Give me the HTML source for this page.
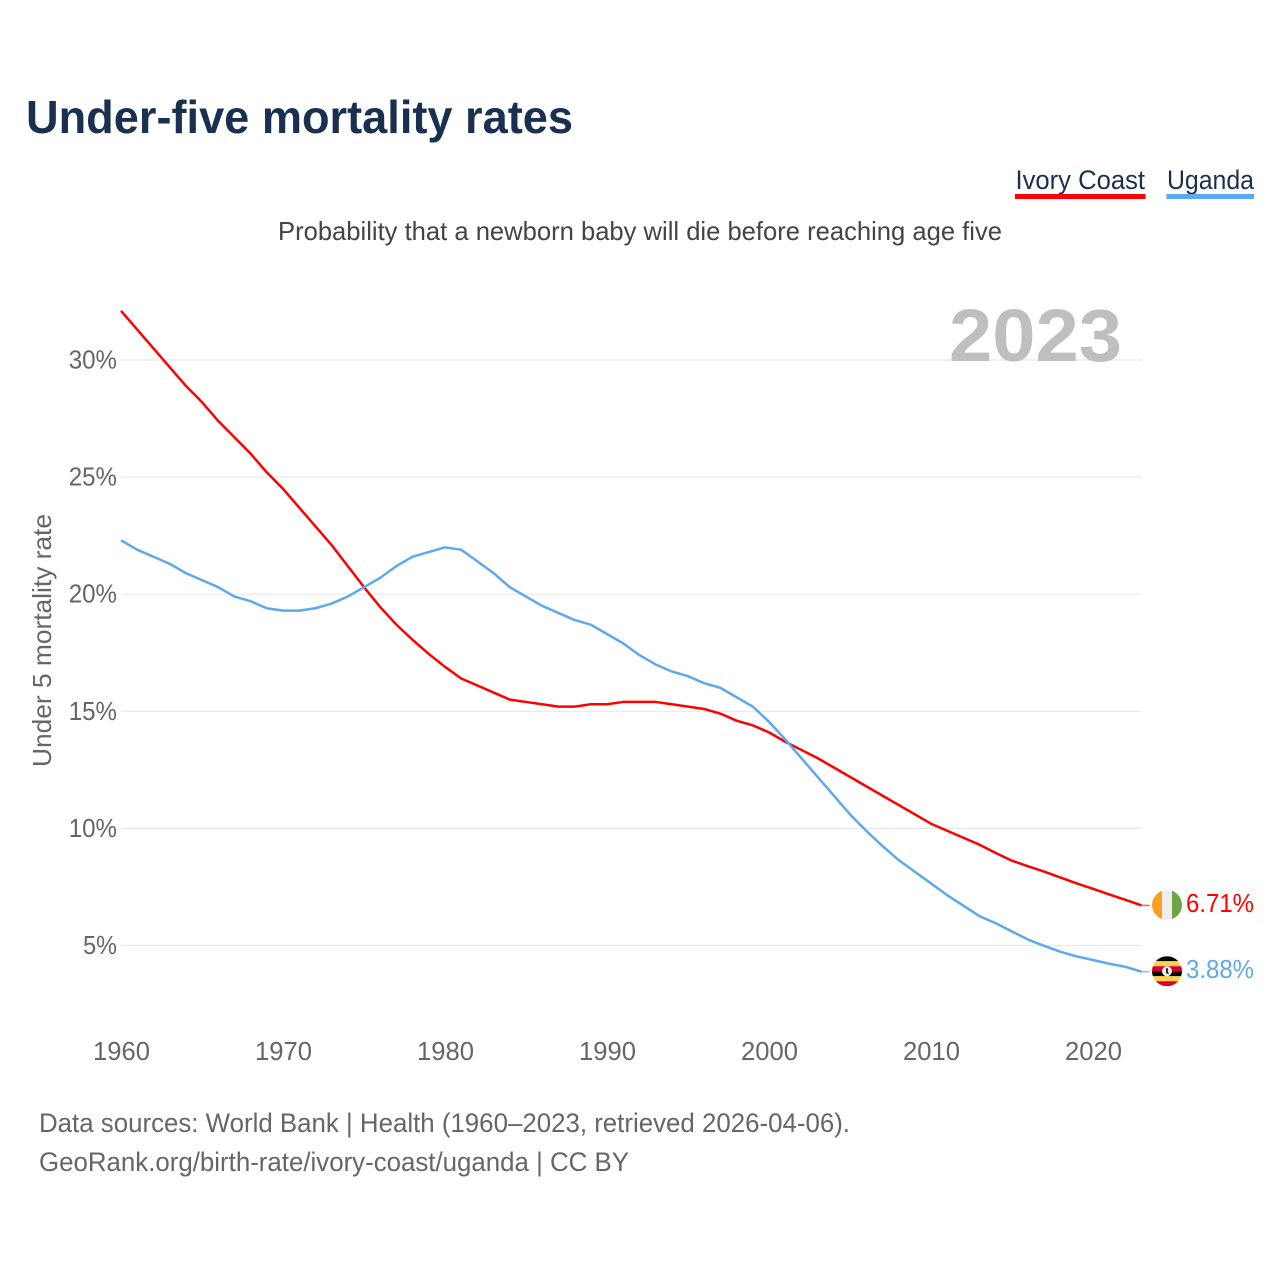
<!DOCTYPE html>
<html lang="en">
<head>
<meta charset="utf-8">
<title>Under-five mortality rates</title>
<style>
html,body{margin:0;padding:0;background:#fff;}
svg{display:block;font-family:"Liberation Sans",sans-serif;}
</style>
</head>
<body>
<svg id="chart" xmlns="http://www.w3.org/2000/svg" width="1280" height="1280" viewBox="0 0 1280 1280">
  <rect width="1280" height="1280" fill="#fff"/>
  <text x="26" y="133" font-size="46" font-weight="700" fill="#1a3050" textLength="547" lengthAdjust="spacingAndGlyphs">Under-five mortality rates</text>
  <g>
    <text x="1015.500" y="189" font-size="27" fill="#1a3050" textLength="129.500" lengthAdjust="spacingAndGlyphs">Ivory Coast</text>
    <rect x="1015" y="194" width="130.500" height="5" fill="#ff0000"/>
  </g>
  <g>
    <text x="1167" y="189" font-size="27" fill="#1a3050" textLength="87" lengthAdjust="spacingAndGlyphs">Uganda</text>
    <rect x="1166.500" y="194" width="87.500" height="5" fill="#5fa8ee"/>
  </g>
  <text x="278" y="240" font-size="26" fill="#444" textLength="724" lengthAdjust="spacingAndGlyphs">Probability that a newborn baby will die before reaching age five</text>
  <g id="grid"></g>
  <text id="year-mark" x="949" y="361" font-size="74" font-weight="700" fill="#bfbfbf" textLength="173" lengthAdjust="spacingAndGlyphs"></text>
  <g id="yticks"></g>
  <g id="xticks"></g>
  <text transform="translate(51,767) rotate(-90)" font-size="26" fill="#666" textLength="253" lengthAdjust="spacingAndGlyphs">Under 5 mortality rate</text>
  <g id="series"></g>

  <defs>
    <clipPath id="flag-clip"><circle cx="0" cy="0" r="15"/></clipPath>
  </defs>
  <g id="flag-ivory">
    <g clip-path="url(#flag-clip)">
      <rect x="-15" y="-15" width="10" height="30" fill="#f9a01f"/>
      <rect x="-5" y="-15" width="10" height="30" fill="#eeeeee"/>
      <rect x="5" y="-15" width="10" height="30" fill="#6da544"/>
    </g>
  </g>
  <g id="flag-uganda">
    <g clip-path="url(#flag-clip)">
      <rect x="-15" y="-15" width="30" height="5" fill="#000"/>
      <rect x="-15" y="-10" width="30" height="5" fill="#ffd24d"/>
      <rect x="-15" y="-5" width="30" height="5" fill="#d80027"/>
      <rect x="-15" y="0" width="30" height="5" fill="#000"/>
      <rect x="-15" y="5" width="30" height="5" fill="#ffd24d"/>
      <rect x="-15" y="10" width="30" height="5" fill="#d80027"/>
      <circle cx="0" cy="0" r="5" fill="#f0f0f0"/>
      <path d="M-1 -3 L1 -3 L0.800 0 L2 3 L-1 2 Z" fill="#222"/>
    </g>
  </g>
  <text id="label-ivory" x="1186" font-size="26" fill="#ff0000" textLength="68" lengthAdjust="spacingAndGlyphs"></text>
  <text id="label-uganda" x="1186" font-size="26" fill="#5fa8ee" textLength="68" lengthAdjust="spacingAndGlyphs"></text>

  <text x="39" y="1132" font-size="27" fill="#666" textLength="811" lengthAdjust="spacingAndGlyphs">Data sources: World Bank | Health (1960–2023, retrieved 2026-04-06).</text>
  <text x="39" y="1171" font-size="27" fill="#666" textLength="590" lengthAdjust="spacingAndGlyphs">GeoRank.org/birth-rate/ivory-coast/uganda | CC BY</text>
</svg>
<script>
const firstYear = 1960;
const xTickLabels = [1960, 1970, 1980, 1990, 2000, 2010, 2020];
const yTickLabels = [5, 10, 15, 20, 25, 30];
const ivoryCoast = [32.1,31.3,30.5,29.7,28.9,28.2,27.4,26.7,26.0,25.2,24.5,23.7,22.9,22.1,21.2,20.3,19.45,18.7,18.05,17.45,16.9,16.4,16.1,15.8,15.5,15.4,15.3,15.2,15.2,15.3,15.3,15.4,15.4,15.4,15.3,15.2,15.1,14.9,14.6,14.4,14.1,13.7,13.35,13.0,12.6,12.2,11.8,11.4,11.0,10.6,10.2,9.9,9.6,9.3,8.95,8.62,8.38,8.15,7.9,7.65,7.42,7.18,6.95,6.71];
const uganda = [22.3,21.9,21.6,21.3,20.9,20.6,20.3,19.9,19.7,19.4,19.3,19.3,19.4,19.6,19.9,20.3,20.7,21.2,21.6,21.8,22.0,21.9,21.4,20.9,20.3,19.9,19.5,19.2,18.9,18.7,18.3,17.9,17.4,17.0,16.7,16.5,16.2,16.0,15.6,15.2,14.55,13.8,13.0,12.2,11.4,10.6,9.9,9.25,8.65,8.15,7.65,7.15,6.7,6.25,5.95,5.6,5.25,4.98,4.73,4.53,4.38,4.22,4.09,3.88];

const NS = 'http://www.w3.org/2000/svg';
function xScale(year) { return 121 + (year - 1960) * 16.2; }
function yScale(value) { return 360 + (30 - value) * 23.42; }
function make(tag, attrs, text) {
  const el = document.createElementNS(NS, tag);
  for (const k in attrs) el.setAttribute(k, attrs[k]);
  if (text !== undefined) el.textContent = text;
  return el;
}
const lastYear = firstYear + ivoryCoast.length - 1;
const plotRight = xScale(lastYear);

const grid = document.getElementById('grid');
const yticks = document.getElementById('yticks');
yTickLabels.forEach(function (v) {
  const line = make('line', {x1: 121, x2: plotRight, y1: yScale(v), y2: yScale(v), stroke: '#e8e8e8', 'stroke-width': 1.2});
  
  
  grid.appendChild(line);
  const str = v + '%';
  const width = (str.length - 1) * 14.4 + 19.5;
  const label = make('text', {x: 117 - width, y: yScale(v) + 8.5, 'font-size': 25.6, fill: '#666', textLength: width, lengthAdjust: 'spacingAndGlyphs'}, str);
  
  
  yticks.appendChild(label);
});

const xticks = document.getElementById('xticks');
xTickLabels.forEach(function (yr) {
  const label = make('text', {x: xScale(yr) + 0.5, y: 1060, 'font-size': 25.6, fill: '#666', 'text-anchor': 'middle'}, String(yr));
  
  
  xticks.appendChild(label);
});

function linePath(values) {
  return values.map(function (v, i) {
    return (i ? 'L' : 'M') + xScale(firstYear + i).toFixed(2) + ' ' + yScale(v).toFixed(2);
  }).join(' ');
}
const series = document.getElementById('series');

const ivoryLine = make('path', {d: linePath(ivoryCoast), fill: 'none', stroke: '#ff0000', 'stroke-width': 2.5, 'stroke-linejoin': 'round'});


series.appendChild(ivoryLine);

const ugandaLine = make('path', {d: linePath(uganda), fill: 'none', stroke: '#5fa8ee', 'stroke-width': 2.5, 'stroke-linejoin': 'round'});


series.appendChild(ugandaLine);

const ivoryEnd = ivoryCoast[ivoryCoast.length - 1];
const ugandaEnd = uganda[uganda.length - 1];

const ivoryConn = make('line', {x1: plotRight, x2: plotRight + 8, y1: yScale(ivoryEnd), y2: yScale(ivoryEnd), stroke: '#ff5a5a', 'stroke-width': 1.5});


series.appendChild(ivoryConn);

const ugandaConn = make('line', {x1: plotRight, x2: plotRight + 8, y1: yScale(ugandaEnd), y2: yScale(ugandaEnd), stroke: '#8fc0f2', 'stroke-width': 1.5});


series.appendChild(ugandaConn);

document.getElementById('flag-ivory').setAttribute('transform', 'translate(1167,' + (yScale(ivoryEnd) - 0.5) + ')');
document.getElementById('flag-uganda').setAttribute('transform', 'translate(1167,' + (yScale(ugandaEnd) - 0.5) + ')');

const labelIvory = document.getElementById('label-ivory');
labelIvory.textContent = ivoryEnd.toFixed(2) + '%';
labelIvory.setAttribute('y', yScale(ivoryEnd) + 6.5);

const labelUganda = document.getElementById('label-uganda');
labelUganda.textContent = ugandaEnd.toFixed(2) + '%';
labelUganda.setAttribute('y', yScale(ugandaEnd) + 6.5);

document.getElementById('year-mark').textContent = String(lastYear);
</script>
</body>
</html>
